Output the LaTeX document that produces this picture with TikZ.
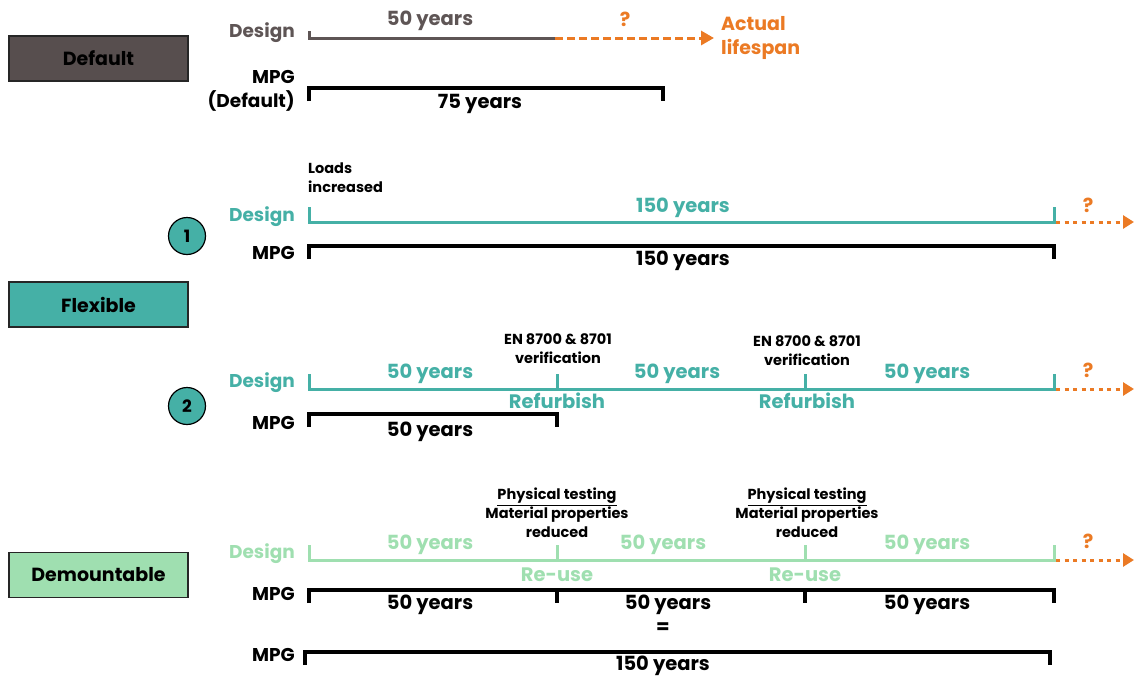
\documentclass[tikz,border=0pt]{standalone}
\usepackage{fontspec}
\setmainfont{Poppins}
\usetikzlibrary{arrows.meta}
\definecolor{dgray}{HTML}{5E5555}
\definecolor{orng}{HTML}{EB7A24}
\definecolor{tealc}{HTML}{45B0A6}
\definecolor{mint}{HTML}{9FDFB0}
\definecolor{boxgray}{HTML}{574E4E}
\begin{document}
\begin{tikzpicture}[x=1pt,y=-1pt,
  every node/.style={inner sep=0pt},
  catbox/.style={draw=black!85, line width=1.2pt, minimum width=179pt, minimum height=45pt,
    text=black, font=\bfseries\fontsize{19}{20}\selectfont},
  rowlbl/.style={anchor=east, align=right, font=\bfseries\fontsize{18.5}{24}\selectfont},
  yrs/.style={font=\bfseries\fontsize{19.5}{20}\selectfont},
  note/.style={align=center, font=\bfseries\fontsize{14.5}{19}\selectfont},
  num/.style={circle, draw=black, line width=1.2pt, fill=tealc, minimum size=37pt,
    font=\bfseries\fontsize{17}{18}\selectfont},
  dline/.style={line width=3pt},
  mline/.style={line width=3.5pt, black},
  future/.style={orng, line width=3pt, dash pattern=on 4pt off 4.5pt,
    -{Triangle[length=11pt,width=13pt]}},
]
\useasboundingbox (0,0) rectangle (1135,678);

% ---------------- Default ----------------
\node[catbox, fill=boxgray] (cDefault) at (98.5,58.5) {Default};
\node[rowlbl, text=dgray] (dDes) at (295,33) {Design};
\node[rowlbl] (dMpg) at (295,91) {MPG\\(Default)};
\coordinate (d0) at (309,38);
\coordinate (d1) at (555,38);
\coordinate (d2) at (714,38);
\draw[dline, dgray] (309,31) -- (d0) -- (d1);
\draw[orng, line width=3pt, dash pattern=on 8pt off 4pt, -{Triangle[length=13pt,width=14pt]}] (d1) -- (d2);
\node[yrs, text=dgray] (dY) at (430,21) {50 years};
\node[yrs, text=orng] (dQ) at (625,19) {?};
\node[anchor=west, align=left, text=orng, font=\bfseries\fontsize{19}{24}\selectfont] (dAct) at (721,38) {Actual\\lifespan};
\coordinate (m0) at (309,88);
\coordinate (m1) at (663,88);
\draw[mline] (309,101) -- (m0) -- (m1) -- (663,101);
\node[yrs] (mY) at (480,104) {75 years};

% ---------------- Flexible ----------------
\node[catbox, fill=tealc] (cFlex) at (98.5,304.5) {Flexible};

% option 1
\node[num] (n1) at (187,236) {1};
\node[note, align=left, anchor=north west] (loads) at (308,163) {Loads\\increased};
\node[rowlbl, text=tealc] (f1Des) at (295,217) {Design};
\coordinate (a0) at (309,222);
\coordinate (a1) at (1054,222);
\coordinate (a2) at (1134,222);
\draw[dline, tealc] (309,207) -- (a0) -- (a1) -- (1054,207);
\draw[future] (1056,222) -- (a2);
\node[yrs, text=orng] (aQ) at (1088,205) {?};
\node[yrs, text=tealc] (aY) at (683,208) {150 years};
\node[rowlbl] (f1Mpg) at (295,253) {MPG};
\coordinate (b0) at (309,246);
\coordinate (b1) at (1054,246);
\draw[mline] (309,259) -- (b0) -- (b1) -- (1054,259);
\node[yrs] (bY) at (683,261) {150 years};

% option 2
\node[num] (n2) at (187,406) {2};
\node[note] (ver1) at (558,349) {EN 8700 \& 8701\\verification};
\node[note] (ver2) at (807,351) {EN 8700 \& 8701\\verification};
\node[rowlbl, text=tealc] (f2Des) at (295,383) {Design};
\coordinate (c0) at (309,389);
\coordinate (c1) at (557,389);
\coordinate (c2) at (805,389);
\coordinate (c3) at (1054,389);
\coordinate (c4) at (1134,389);
\draw[dline, tealc] (309,374) -- (c0) -- (c3) -- (1054,374);
\draw[dline, tealc] (c1) -- (557,374);
\draw[dline, tealc] (c2) -- (805,374);
\draw[future] (1056,389) -- (c4);
\node[yrs, text=orng] (cQ) at (1088,370) {?};
\node[yrs, text=tealc] (cY1) at (430,374) {50 years};
\node[yrs, text=tealc] (cY2) at (677,374) {50 years};
\node[yrs, text=tealc] (cY3) at (927,374) {50 years};
\node[yrs, text=tealc] (ref1) at (557,401) {Refurbish};
\node[yrs, text=tealc] (ref2) at (807,401) {Refurbish};
\node[rowlbl] (f2Mpg) at (295,423) {MPG};
\coordinate (e0) at (309,414);
\coordinate (e1) at (557,414);
\draw[mline] (309,427) -- (e0) -- (e1) -- (557,427);
\node[yrs] (eY) at (430,432) {50 years};

% ---------------- Demountable ----------------
\node[catbox, fill=mint] (cDem) at (98.5,575) {Demountable};
\node[note] (pt1) at (557,513) {\underline{Physical testing}\\Material properties\\reduced};
\node[note] (pt2) at (807,513) {\underline{Physical testing}\\Material properties\\reduced};
\node[rowlbl, text=mint] (gDes) at (295,554) {Design};
\coordinate (g0) at (309,560);
\coordinate (g1) at (557,560);
\coordinate (g2) at (805,560);
\coordinate (g3) at (1054,560);
\coordinate (g4) at (1134,560);
\draw[dline, mint] (309,545) -- (g0) -- (g3) -- (1054,545);
\draw[dline, mint] (g1) -- (557,545);
\draw[dline, mint] (g2) -- (805,545);
\draw[future] (1056,560) -- (g4);
\node[yrs, text=orng] (gQ) at (1088,541) {?};
\node[yrs, text=mint] (gY1) at (430,545) {50 years};
\node[yrs, text=mint] (gY2) at (663,545) {50 years};
\node[yrs, text=mint] (gY3) at (927,545) {50 years};
\node[yrs, text=mint] (ru1) at (557,575) {Re-use};
\node[yrs, text=mint] (ru2) at (805,575) {Re-use};
\node[rowlbl] (gMpg1) at (295,594) {MPG};
\coordinate (h0) at (309,590);
\coordinate (h1) at (557,590);
\coordinate (h2) at (805,590);
\coordinate (h3) at (1054,590);
\draw[mline] (309,603) -- (h0) -- (h3) -- (1054,603);
\draw[mline] (h1) -- (557,603);
\draw[mline] (h2) -- (805,603);
\node[yrs] (hY1) at (430,605) {50 years};
\node[yrs] (hY2) at (668,605) {50 years};
\node[yrs] (hY3) at (927,605) {50 years};
\node[yrs] (eq) at (663,628) {=};
\node[rowlbl] (gMpg2) at (295,655) {MPG};
\coordinate (k0) at (305,652);
\coordinate (k1) at (1050,652);
\draw[mline] (305,665) -- (k0) -- (k1) -- (1050,665);
\node[yrs] (kY) at (663,666) {150 years};
\end{tikzpicture}
\end{document}
